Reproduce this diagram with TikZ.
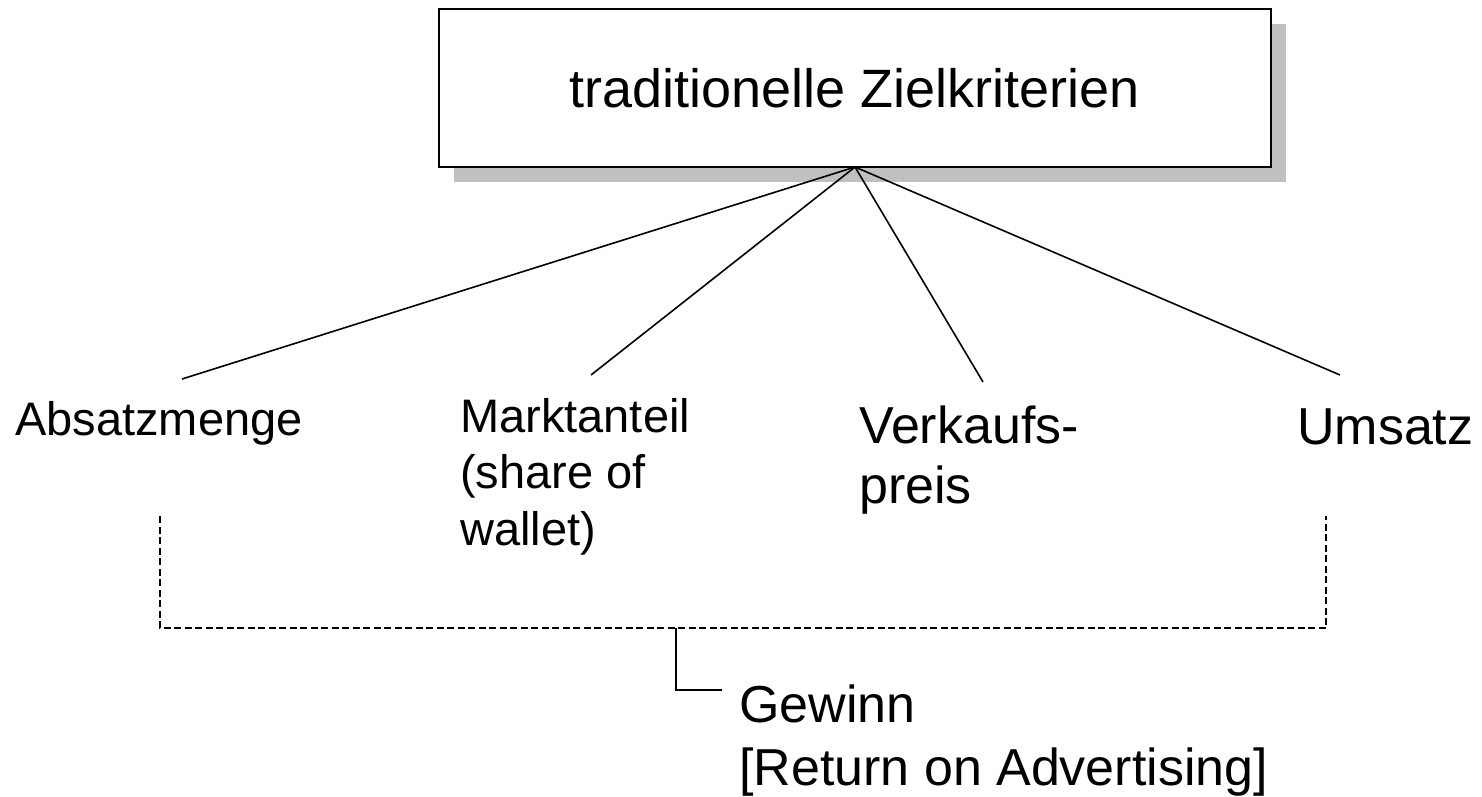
\documentclass[tikz,border=0pt]{standalone}
\usepackage{fontspec}
\setmainfont{Liberation Sans}
\definecolor{shadowgray}{HTML}{C0C0C0}
\begin{document}
\begin{tikzpicture}[x=1pt,y=-1pt,
  boxshape/.style={minimum width=832pt, minimum height=158pt, inner sep=0pt, outer sep=0pt},
  rootbox/.style={boxshape, draw=black, line width=1.8pt, fill=white,
    font=\fontsize{54}{62}\selectfont},
  shadowbox/.style={boxshape, fill=shadowgray},
  smalllabel/.style={anchor=base west, inner sep=0pt, align=left,
    font=\fontsize{47}{56.5}\selectfont},
  biglabel/.style={anchor=base west, inner sep=0pt, align=left,
    font=\fontsize{52}{60}\selectfont},
  branch/.style={line width=1.6pt},
  bracket/.style={line width=1.4pt, dash pattern=on 7pt off 3.5pt}]

  % canvas
  \fill[white] (0,0) rectangle (1482,797);
  \useasboundingbox (0,0) rectangle (1482,797);

  % headline box with its drop shadow
  \node[shadowbox] (shadow) at (870,103) {};
  \node[rootbox] (root) at (855,88) {traditionelle Zielkriterien};

  % criteria (multi-line labels are placed by their last baseline)
  \node[smalllabel] (absatz) at (15,435) {Absatzmenge};
  \node[smalllabel] (markt) at (460,545) {Marktanteil\\(share of\\wallet)};
  \node[biglabel] (preis) at (859,503) {Verkaufs-\\preis};
  \node[biglabel] (umsatz) at (1297,444) {Umsatz};
  \node[biglabel, font=\fontsize{52}{63}\selectfont] (gewinn) at (739,785)
    {Gewinn\\{[}Return on Advertising{]}};

  % free ends of the branches
  \coordinate (endA) at (182,379);
  \coordinate (endM) at (591,375);
  \coordinate (endV) at (983,382);
  \coordinate (endU) at (1340,375);

  \draw[branch] (root.south) -- (endA);
  \draw[branch] (root.south) -- (endM);
  \draw[branch] (root.south) -- (endV);
  \draw[branch] (root.south) -- (endU);

  % dashed bracket joining Absatzmenge ... Umsatz
  \coordinate (bl) at (160,516);
  \coordinate (blc) at (160,628);
  \coordinate (brc) at (1326,628);
  \coordinate (br) at (1326,516);
  \draw[bracket] (bl) -- (blc) -- (brc) -- (br);

  % link from the bracket to Gewinn
  \coordinate (tap) at (676,628);
  \coordinate (knee) at (676,690);
  \coordinate (gw) at (722,690);
  \draw[branch] (tap) -- (knee) -- (gw);
\end{tikzpicture}
\end{document}
